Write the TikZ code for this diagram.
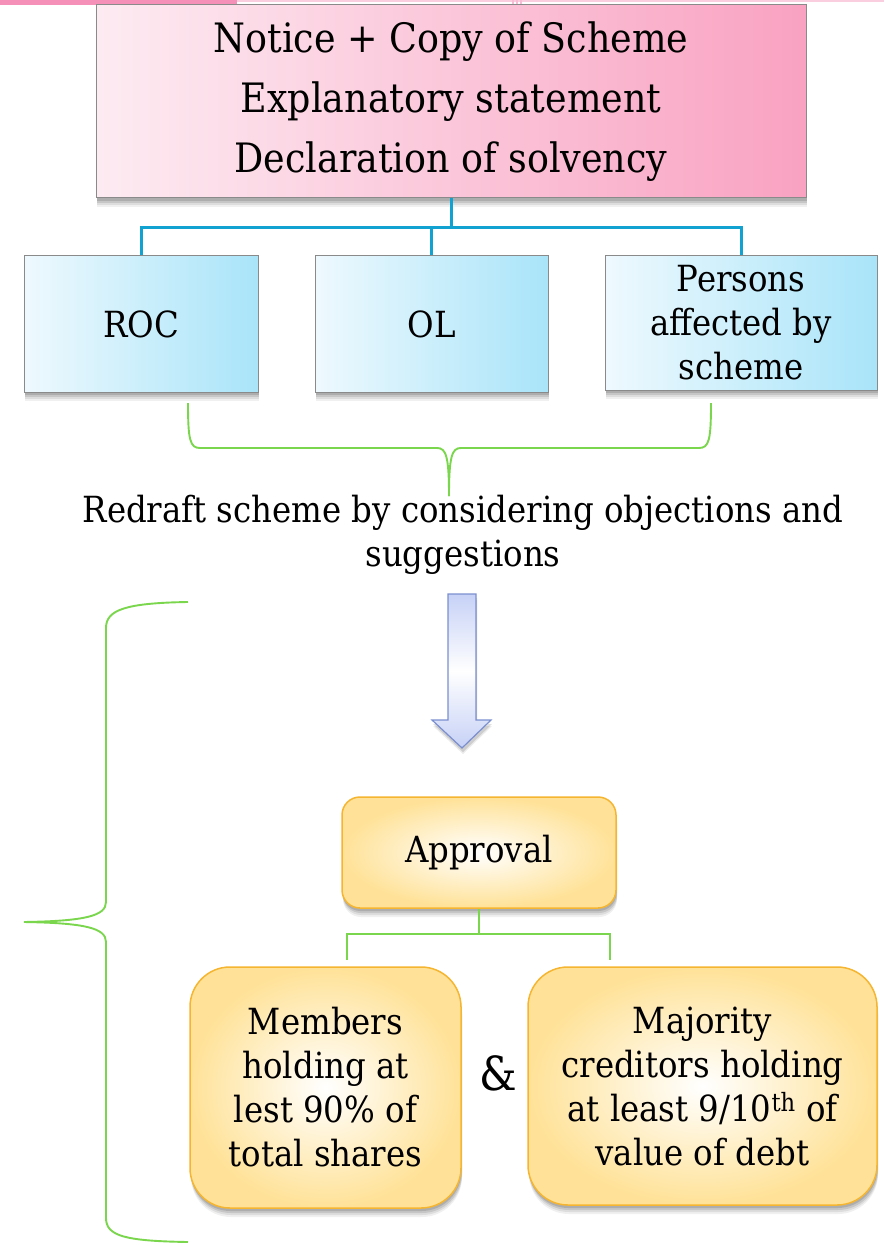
\documentclass[tikz,border=0pt]{standalone}
\usepackage{fontspec}
\setmainfont{DejaVu Serif Condensed}
\newfontfamily\boxface{DejaVu Serif Condensed}
\usetikzlibrary{shadows}
\definecolor{pinkL}{HTML}{FDEBF2}
\definecolor{pinkR}{HTML}{F9A2C1}
\definecolor{pinkBar}{HTML}{F590B8}
\definecolor{blueL}{HTML}{EEF9FE}
\definecolor{blueR}{HTML}{A9E4F9}
\definecolor{boxEdge}{HTML}{8A8A8A}
\definecolor{busBlue}{HTML}{12A2D2}
\definecolor{braceGreen}{HTML}{7AD64C}
\definecolor{goldEdge}{HTML}{F6B530}
\definecolor{goldFill}{HTML}{FFE298}
\definecolor{arrowEdge}{HTML}{7B8FCF}
\definecolor{arrowFill}{HTML}{C6D1F6}
\tikzset{
  % layered shadows give a soft edge below each box
  softshadow/.style={
    drop shadow={shadow xshift=1pt,shadow yshift=-9pt,opacity=.06,fill=black},
    drop shadow={shadow xshift=1pt,shadow yshift=-7pt,opacity=.08,fill=black},
    drop shadow={shadow xshift=1pt,shadow yshift=-5pt,opacity=.10,fill=black},
    drop shadow={shadow xshift=0.5pt,shadow yshift=-3pt,opacity=.12,fill=black}},
  pinkbox/.style={draw=boxEdge,line width=1pt,left color=pinkL,right color=pinkR,
    softshadow,align=center,inner sep=0pt},
  bluebox/.style={draw=boxEdge,line width=1pt,left color=blueL,right color=blueR,
    softshadow,align=center,inner sep=0pt},
  goldbox/.style={draw=goldEdge,line width=1.5pt,rounded corners=#1,inner color=white,
    outer color=goldFill,softshadow,align=center,inner sep=0pt},
  busline/.style={draw=busBlue,line width=3pt},
  greenline/.style={draw=braceGreen,line width=1.9pt},
  bigtext/.style={font=\boxface\fontsize{40.5}{60}\selectfont},
  bodytext/.style={font=\boxface\fontsize{36}{44}\selectfont},
}
\begin{document}
\begin{tikzpicture}[x=1pt,y=-1pt]
\useasboundingbox (0,0) rectangle (884,1246);
\fill[white] (0,0) rectangle (884,1246);

% decorative strip along the top edge
\fill[pinkBar] (0,0) rectangle (237,5);
\fill[pinkBar!45] (237,0) rectangle (884,2.5);
\foreach \sx in {512,516,520} \fill[pinkBar!60] (\sx,0) rectangle (\sx+2,7);

% document bundle
\node[pinkbox,bigtext,minimum width=710,minimum height=193] (top) at (451,101.5)
  {Notice + Copy of Scheme\\Explanatory statement\\Declaration of solvency};

% recipients
\node[bluebox,bodytext,minimum width=234,minimum height=136] (roc) at (141,324) {ROC};
\node[bluebox,bodytext,minimum width=233,minimum height=136] (ol) at (431.5,324) {OL};
\node[bluebox,bodytext,minimum width=272,minimum height=134] (persons) at (741,323)
  {Persons\\affected by\\scheme};

% distribution lines
\coordinate (bus) at (451,228);
\draw[busline] (top.south) -- (bus);
\draw[busline] (roc.north) |- (bus) -| (persons.north);
\draw[busline] (ol.north) -- (ol.north |- bus);

% brace gathering the replies
\coordinate (bl) at (188,403);
\coordinate (br) at (711,403);
\coordinate (btip) at (449,496);
\draw[greenline] (bl) .. controls (188,440) and (190,448) .. (200,448) -- (437,448)
  .. controls (446,448) and (449,456) .. (btip);
\draw[greenline] (br) .. controls (711,440) and (709,448) .. (699,448) -- (461,448)
  .. controls (452,448) and (449,456) .. (btip);

\node[bodytext,align=center] (redraft) at (463,535)
  {Redraft scheme by considering objections and\\suggestions};

% downward block arrow
\path[draw=arrowEdge,line width=1.2pt,top color=arrowFill,bottom color=arrowFill,middle color=white,
  drop shadow={shadow xshift=1pt,shadow yshift=-6pt,opacity=.08,fill=black},
  drop shadow={shadow xshift=1pt,shadow yshift=-4pt,opacity=.12,fill=black}]
  (448,594) -- (476,594) -- (476,720) -- (491,720) -- (462,748) -- (432,720) -- (448,720) -- cycle;

% approval stage
\node[goldbox=18,bodytext,minimum width=274,minimum height=111] (approval) at (479,852.5) {Approval};
\node[goldbox=40,bodytext,minimum width=271,minimum height=241] (members) at (325.5,1087.5)
  {Members\\holding at\\lest 90\% of\\total shares};
\node[goldbox=40,bodytext,minimum width=349,minimum height=238] (majority) at (702.5,1086)
  {Majority\\creditors holding\\at least 9/10\textsuperscript{th} of\\value of debt};
\node[font=\boxface\fontsize{47}{47}\selectfont] (amp) at (498,1073) {\&};

\coordinate (gbus) at (479,934);
\coordinate (gl) at (347,960);
\coordinate (gr) at (610,960);
\draw[greenline] (approval.south) -- (gbus);
\draw[greenline] (gl) |- (gbus) -| (gr);

% large brace spanning the approval stage
\coordinate (lt) at (188,602);
\coordinate (lb) at (188,1242);
\coordinate (ltip) at (24,922);
\draw[greenline] (lt) .. controls (125,603) and (106,610) .. (106,628) -- (106,902)
  .. controls (106,916) and (85,921) .. (ltip);
\draw[greenline] (ltip) .. controls (85,923) and (106,928) .. (106,942) -- (106,1218)
  .. controls (106,1236) and (125,1241) .. (lb);
\end{tikzpicture}
\end{document}
